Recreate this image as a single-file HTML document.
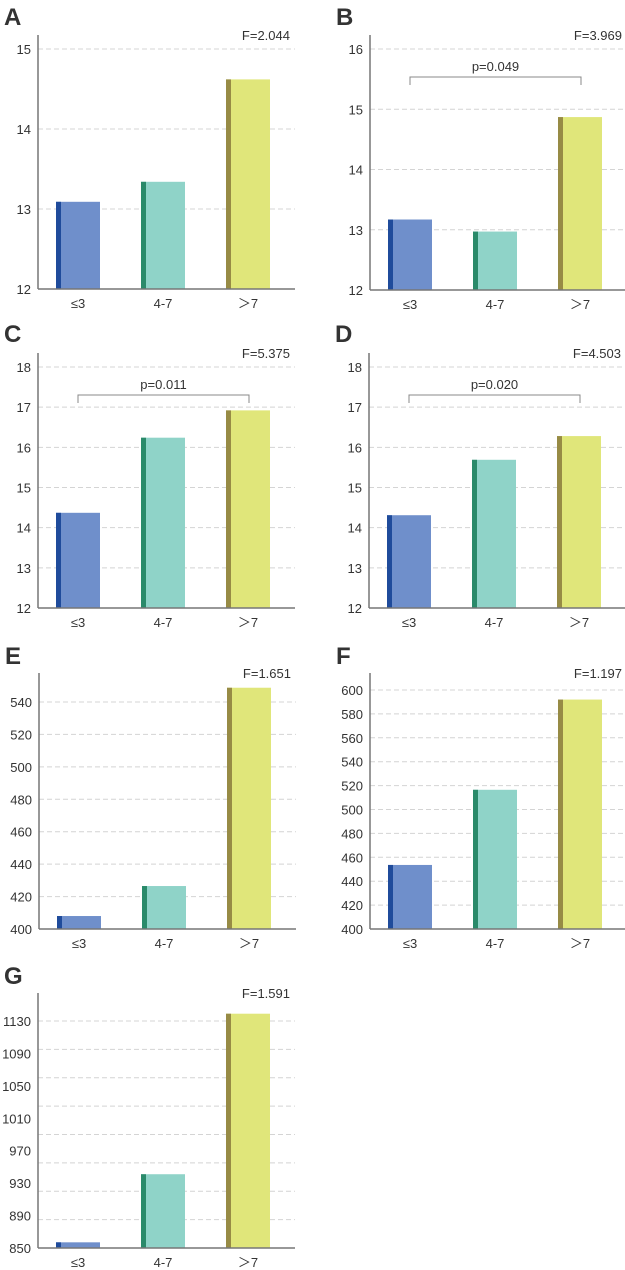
<!DOCTYPE html>
<html><head><meta charset="utf-8"><style>
html,body{margin:0;padding:0;background:#fff;}
svg{display:block;}
text{font-family:"Liberation Sans Narrow","Liberation Sans",sans-serif;fill:#333;}
</style></head><body>
<svg id="fig" width="625" height="1270" viewBox="0 0 625 1270"></svg>
<script>
const categories = ["≤3","4-7","＞7"];
const valuesA = [13.09, 13.34, 14.62];
const valuesB = [13.17, 12.97, 14.87];
const valuesC = [14.37, 16.24, 16.92];
const valuesD = [14.31, 15.69, 16.28];
const valuesE = [408, 426.5, 548.8];
const valuesF = [453.6, 516.5, 592];
const valuesG = [857, 941, 1139];
const ticksA = [12,13,14,15];
const ticksB = [12,13,14,15,16];
const ticksC = [12,13,14,15,16,17,18];
const ticksD = [12,13,14,15,16,17,18];
const ticksE = [400,420,440,460,480,500,520,540];
const ticksF = [400,420,440,460,480,500,520,540,560,580,600];
const ticksG = [850,890,930,970,1010,1050,1090,1130];
const statsText = ["F=2.044","F=3.969","F=5.375","F=4.503","F=1.651","F=1.197","F=1.591"];
const pText = [null,"p=0.049","p=0.011","p=0.020",null,null,null];

const NS="http://www.w3.org/2000/svg";
const svg=document.getElementById('fig');
function mk(tag,attrs,parent){const e=document.createElementNS(NS,tag);for(const k in attrs)e.setAttribute(k,attrs[k]);(parent||svg).appendChild(e);return e;}

const fills=["#6f8fcb","#8fd3c8","#e0e67a"];
const stripes=["#1f4b9b","#2a8a6a","#978b45"];

const panels=[
 {L:"A",vals:valuesA,ticks:ticksA,ax:38,bottom:289,top:35,maxY:49,ly:16},
 {L:"B",vals:valuesB,ticks:ticksB,ax:370,bottom:290,top:35,maxY:49,ly:16},
 {L:"C",vals:valuesC,ticks:ticksC,ax:38,bottom:608,top:353,maxY:367,ly:333},
 {L:"D",vals:valuesD,ticks:ticksD,ax:369,bottom:608,top:353,maxY:367,ly:333},
 {L:"E",vals:valuesE,ticks:ticksE,ax:39,bottom:929,top:673,maxY:702,ly:655},
 {L:"F",vals:valuesF,ticks:ticksF,ax:370,bottom:929,top:673,maxY:690,ly:655},
 {L:"G",vals:valuesG,ticks:ticksG,ax:38,bottom:1248,top:993,maxY:1021,ly:975,offGrid:true}
];

panels.forEach((p,pi)=>{
  const g=mk('g',{});
  
  
  const t0=p.ticks[0], t1=p.ticks[p.ticks.length-1];
  const y=v=>p.bottom-(v-t0)/(t1-t0)*(p.bottom-p.maxY);
  const right=p.ax+257;
  const lt=mk('text',{x:p.ax-34,y:p.ly+9,'font-size':24,'font-weight':'bold',fill:'#111'},g);
  lt.textContent=p.L;
  
  
  if(p.offGrid){
    const n=8; const step=(p.bottom-p.maxY)/n;
    for(let i=0;i<n;i++){const gy=p.maxY+i*step;
      const gl=mk('line',{x1:p.ax,x2:right,y1:gy,y2:gy,stroke:'#d4d4d4','stroke-width':1,'stroke-dasharray':'5,3'},g);
      
      }
  }
  p.ticks.forEach((t,i)=>{
    const ty=y(t);
    if(i>0 && !p.offGrid){
      const gl=mk('line',{x1:p.ax,x2:right,y1:ty,y2:ty,stroke:'#d4d4d4','stroke-width':1,'stroke-dasharray':'5,3'},g);
      
      
    }
    const tl=mk('text',{x:p.ax-7,y:ty+5,'font-size':13,'text-anchor':'end'},g);
    tl.textContent=t;
    
    
  });
  p.vals.forEach((v,i)=>{
    const bx=p.ax+18+i*85, by=y(v);
    const r=mk('rect',{x:bx,y:by,width:44,height:p.bottom-by,fill:fills[i]},g);
    
    
    const s=mk('rect',{x:bx,y:by,width:5,height:p.bottom-by,fill:stripes[i]},g);
    
    
    const xl=mk('text',{x:bx+22,y:p.bottom+19,'font-size':13,'text-anchor':'middle'},g);
    xl.textContent=categories[i];
    
    
  });
  const ya=mk('line',{x1:p.ax,x2:p.ax,y1:p.top,y2:p.bottom,stroke:'#777','stroke-width':1.5},g);
  
  
  const xa=mk('line',{x1:p.ax,x2:right,y1:p.bottom,y2:p.bottom,stroke:'#777','stroke-width':1.5},g);
  
  
  const ft=mk('text',{x:right-5,y:p.top+5,'font-size':13,'text-anchor':'end'},g);
  ft.textContent=statsText[pi];
  
  
  if(pText[pi]){
    const by=p.top+42;
    const x1=p.ax+40, x2=p.ax+211;
    const br=mk('path',{d:`M${x1},${by+8}V${by}H${x2}V${by+8}`,fill:'none',stroke:'#888','stroke-width':1},g);
    
    
    const pt=mk('text',{x:(x1+x2)/2,y:by-6,'font-size':13,'text-anchor':'middle'},g);
    pt.textContent=pText[pi];
    
    
  }
});
</script>
</body></html>
